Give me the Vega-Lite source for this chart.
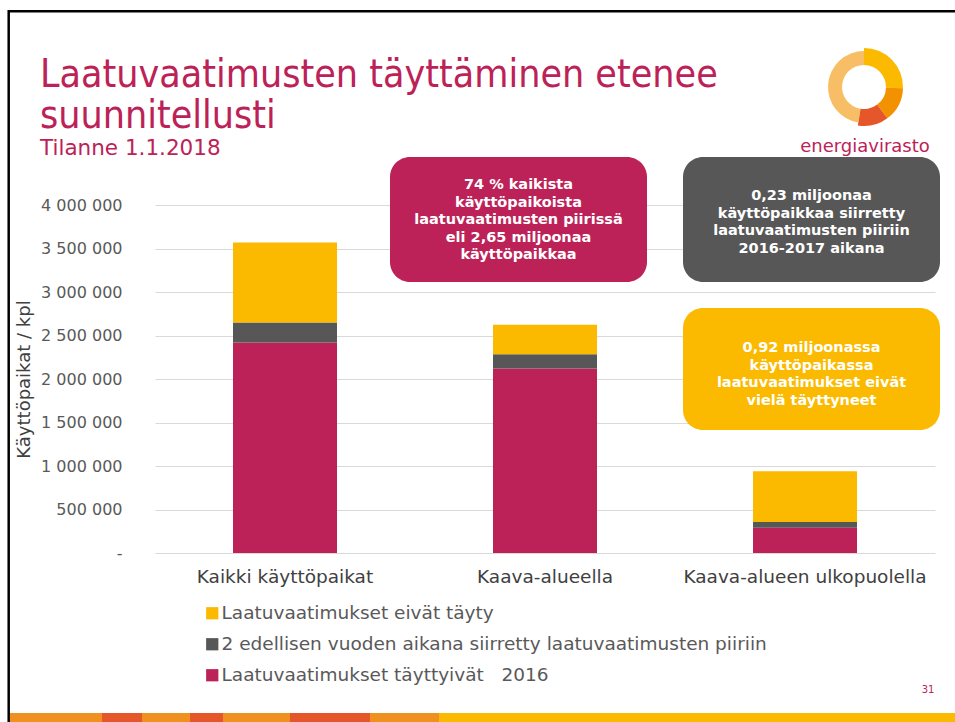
{
  "$schema": "https://vega.github.io/schema/vega-lite/v6.json",
  "autosize": "none",
  "width": 780,
  "height": 348,
  "padding": {"left": 155, "top": 205, "right": 20, "bottom": 169},
  "background": "white",
  "title": {
    "text": ["Laatuvaatimusten täyttäminen etenee", "suunnitellusti"],
    "subtitle": "Tilanne 1.1.2018",
    "anchor": "start",
    "frame": "group",
    "dx": -115,
    "offset": -151,
    "font": "DejaVu Sans Condensed",
    "fontSize": 39,
    "fontWeight": "normal",
    "lineHeight": 41,
    "color": "#BC2257",
    "subtitleFont": "DejaVu Sans",
    "subtitleFontSize": 21.5,
    "subtitleColor": "#BC2257",
    "subtitlePadding": 2
  },
  "datasets": {
    "bars": [
      {"category": "Kaikki käyttöpaikat", "series": "Laatuvaatimukset täyttyivät\u00a0\u00a0\u00a02016", "rank": 1, "value": 2420000},
      {"category": "Kaikki käyttöpaikat", "series": "2 edellisen vuoden aikana siirretty laatuvaatimusten piiriin", "rank": 2, "value": 230000},
      {"category": "Kaikki käyttöpaikat", "series": "Laatuvaatimukset eivät täyty", "rank": 3, "value": 920000},
      {"category": "Kaava-alueella", "series": "Laatuvaatimukset täyttyivät\u00a0\u00a0\u00a02016", "rank": 1, "value": 2120000},
      {"category": "Kaava-alueella", "series": "2 edellisen vuoden aikana siirretty laatuvaatimusten piiriin", "rank": 2, "value": 165000},
      {"category": "Kaava-alueella", "series": "Laatuvaatimukset eivät täyty", "rank": 3, "value": 340000},
      {"category": "Kaava-alueen ulkopuolella", "series": "Laatuvaatimukset täyttyivät\u00a0\u00a0\u00a02016", "rank": 1, "value": 290000},
      {"category": "Kaava-alueen ulkopuolella", "series": "2 edellisen vuoden aikana siirretty laatuvaatimusten piiriin", "rank": 2, "value": 65000},
      {"category": "Kaava-alueen ulkopuolella", "series": "Laatuvaatimukset eivät täyty", "rank": 3, "value": 585000}
    ],
    "one": [{}]
  },
  "data": {"name": "bars"},
  "layer": [
    {
      "mark": {"type": "bar"},
      "encoding": {
        "x": {
          "field": "category", "type": "nominal",
          "sort": ["Kaikki käyttöpaikat", "Kaava-alueella", "Kaava-alueen ulkopuolella"],
          "scale": {"paddingInner": 0.6, "paddingOuter": 0.3},
          "axis": {"title": null, "labelAngle": 0, "labelFont": "DejaVu Sans", "labelFontSize": 18.5, "labelColor": "#404040", "labelPadding": 14, "labelLimit": 400, "grid": false, "domain": false, "ticks": false}
        },
        "y": {
          "field": "value", "type": "quantitative", "stack": "zero",
          "scale": {"domain": [0, 4000000], "nice": false},
          "axis": {
            "title": "Käyttöpaikat / kpl",
            "values": [0, 500000, 1000000, 1500000, 2000000, 2500000, 3000000, 3500000, 4000000],
            "labelExpr": "datum.value == 0 ? '-' : replace(replace(format(datum.value, ','), ',', ' '), ',', ' ')",
            "labelFont": "DejaVu Sans", "labelFontSize": 16, "labelColor": "#595959", "labelPadding": 33,
            "titleFont": "DejaVu Sans", "titleFontSize": 18, "titleColor": "#404040", "titleFontWeight": "normal", "titlePadding": 7,
            "grid": true, "gridColor": "#D9D9D9", "domain": false, "ticks": false
          }
        },
        "color": {
          "field": "series", "type": "nominal",
          "scale": {
            "domain": ["Laatuvaatimukset eivät täyty", "2 edellisen vuoden aikana siirretty laatuvaatimusten piiriin", "Laatuvaatimukset täyttyivät\u00a0\u00a0\u00a02016"],
            "range": ["#FBBA00", "#575757", "#BC2257"]
          },
          "legend": {
            "title": null, "orient": "none", "legendX": 48, "legendY": 399,
            "symbolType": "square", "symbolSize": 150, "symbolStrokeWidth": 0, "symbolOpacity": 1,
            "labelFont": "DejaVu Sans", "labelFontSize": 18.5, "labelColor": "#595959", "labelOffset": 0, "rowPadding": 12, "labelLimit": 800
          }
        },
        "order": {"field": "rank", "type": "quantitative"}
      }
    },
    {
      "data": {"name": "one"},
      "mark": {"type": "bar", "width": 257, "cornerRadius": 20, "color": "#BC2257", "xOffset": -26.5},
      "encoding": {"x": {"datum": "Kaava-alueella"}, "y": {"datum": 4551724}, "y2": {"datum": 3114943}}
    },
    {
      "data": {"name": "one"},
      "mark": {"type": "bar", "width": 257, "cornerRadius": 20, "color": "#575757", "xOffset": 6.5},
      "encoding": {"x": {"datum": "Kaava-alueen ulkopuolella"}, "y": {"datum": 4551724}, "y2": {"datum": 3114943}}
    },
    {
      "data": {"name": "one"},
      "mark": {"type": "bar", "width": 257, "cornerRadius": 20, "color": "#FBBA00", "xOffset": 6.5},
      "encoding": {"x": {"datum": "Kaava-alueen ulkopuolella"}, "y": {"datum": 2816092}, "y2": {"datum": 1413793}}
    },
    {
      "data": {"name": "one"},
      "mark": {"type": "text", "font": "DejaVu Sans", "fontWeight": "bold", "fontSize": 14.5, "lineHeight": 17.5, "color": "white", "align": "center", "baseline": "middle", "xOffset": -26.5,
        "text": ["74 % kaikista", "käyttöpaikoista", "laatuvaatimusten piirissä", "eli 2,65 miljoonaa", "käyttöpaikkaa"]},
      "encoding": {"x": {"datum": "Kaava-alueella"}, "y": {"datum": 4229885}}
    },
    {
      "data": {"name": "one"},
      "mark": {"type": "text", "font": "DejaVu Sans", "fontWeight": "bold", "fontSize": 14.5, "lineHeight": 17.5, "color": "white", "align": "center", "baseline": "middle", "xOffset": 6.5,
        "text": ["0,23 miljoonaa", "käyttöpaikkaa siirretty", "laatuvaatimusten piiriin", "2016-2017 aikana"]},
      "encoding": {"x": {"datum": "Kaava-alueen ulkopuolella"}, "y": {"datum": 4103448}}
    },
    {
      "data": {"name": "one"},
      "mark": {"type": "text", "font": "DejaVu Sans", "fontWeight": "bold", "fontSize": 14.5, "lineHeight": 17.5, "color": "white", "align": "center", "baseline": "middle", "xOffset": 6.5,
        "text": ["0,92 miljoonassa", "käyttöpaikassa", "laatuvaatimukset eivät", "vielä täyttyneet"]},
      "encoding": {"x": {"datum": "Kaava-alueen ulkopuolella"}, "y": {"datum": 2356322}}
    },
    {
      "data": {"name": "one"},
      "mark": {"type": "arc", "radius": 39, "radius2": 22, "theta": 0, "theta2": 1.6, "color": "#FBBA00", "xOffset": 59},
      "encoding": {"x": {"datum": "Kaava-alueen ulkopuolella"}, "y": {"datum": 5356322}}
    },
    {
      "data": {"name": "one"},
      "mark": {"type": "arc", "radius": 39, "radius2": 22, "theta": 1.6, "theta2": 2.5, "color": "#F39200", "xOffset": 59},
      "encoding": {"x": {"datum": "Kaava-alueen ulkopuolella"}, "y": {"datum": 5356322}}
    },
    {
      "data": {"name": "one"},
      "mark": {"type": "arc", "radius": 39, "radius2": 22, "theta": 2.5, "theta2": 3.3, "color": "#E5562A", "xOffset": 59},
      "encoding": {"x": {"datum": "Kaava-alueen ulkopuolella"}, "y": {"datum": 5356322}}
    },
    {
      "data": {"name": "one"},
      "mark": {"type": "arc", "radius": 36, "radius2": 22, "theta": 3.3, "theta2": 6.283, "color": "#F39200", "opacity": 0.6, "xOffset": 59},
      "encoding": {"x": {"datum": "Kaava-alueen ulkopuolella"}, "y": {"datum": 5356322}}
    },
    {
      "data": {"name": "one"},
      "mark": {"type": "text", "text": "energiavirasto", "font": "DejaVu Sans", "fontSize": 18, "color": "#BC2257", "align": "center", "baseline": "middle", "xOffset": 60},
      "encoding": {"x": {"datum": "Kaava-alueen ulkopuolella"}, "y": {"datum": 4666667}}
    },
    {
      "data": {"name": "one"},
      "mark": {"type": "text", "text": "31", "font": "DejaVu Sans", "fontSize": 10, "color": "#BC2257", "align": "center", "baseline": "middle", "xOffset": 123},
      "encoding": {"x": {"datum": "Kaava-alueen ulkopuolella"}, "y": {"datum": -1574713}}
    },
    {
      "data": {"name": "one"},
      "mark": {"type": "rule", "color": "black", "strokeWidth": 2.5, "xOffset": -277, "x2Offset": 670},
      "encoding": {"x": {"datum": "Kaikki käyttöpaikat"}, "x2": {"datum": "Kaikki käyttöpaikat"}, "y": {"datum": 6226437}}
    },
    {
      "data": {"name": "one"},
      "mark": {"type": "rule", "color": "black", "strokeWidth": 2.5, "xOffset": -276.3},
      "encoding": {"x": {"datum": "Kaikki käyttöpaikat"}, "y": {"datum": 6240000}, "y2": {"datum": -1943000}}
    },
    {
      "data": {"name": "one"},
      "mark": {"type": "rule", "color": "#F0901E", "strokeWidth": 9, "xOffset": -275, "x2Offset": 154},
      "encoding": {"x": {"datum": "Kaikki käyttöpaikat"}, "x2": {"datum": "Kaikki käyttöpaikat"}, "y": {"datum": -1890805}}
    },
    {
      "data": {"name": "one"},
      "mark": {"type": "rule", "color": "#E5562A", "strokeWidth": 9, "xOffset": -183, "x2Offset": -143},
      "encoding": {"x": {"datum": "Kaikki käyttöpaikat"}, "x2": {"datum": "Kaikki käyttöpaikat"}, "y": {"datum": -1890805}}
    },
    {
      "data": {"name": "one"},
      "mark": {"type": "rule", "color": "#E5562A", "strokeWidth": 9, "xOffset": -95, "x2Offset": -62},
      "encoding": {"x": {"datum": "Kaikki käyttöpaikat"}, "x2": {"datum": "Kaikki käyttöpaikat"}, "y": {"datum": -1890805}}
    },
    {
      "data": {"name": "one"},
      "mark": {"type": "rule", "color": "#E5562A", "strokeWidth": 9, "xOffset": 5, "x2Offset": 85},
      "encoding": {"x": {"datum": "Kaikki käyttöpaikat"}, "x2": {"datum": "Kaikki käyttöpaikat"}, "y": {"datum": -1890805}}
    },
    {
      "data": {"name": "one"},
      "mark": {"type": "rule", "color": "#FBBA00", "strokeWidth": 9, "xOffset": 154, "x2Offset": 670},
      "encoding": {"x": {"datum": "Kaikki käyttöpaikat"}, "x2": {"datum": "Kaikki käyttöpaikat"}, "y": {"datum": -1890805}}
    }
  ],
  "config": {
    "font": "DejaVu Sans",
    "view": {"stroke": null}
  }
}
